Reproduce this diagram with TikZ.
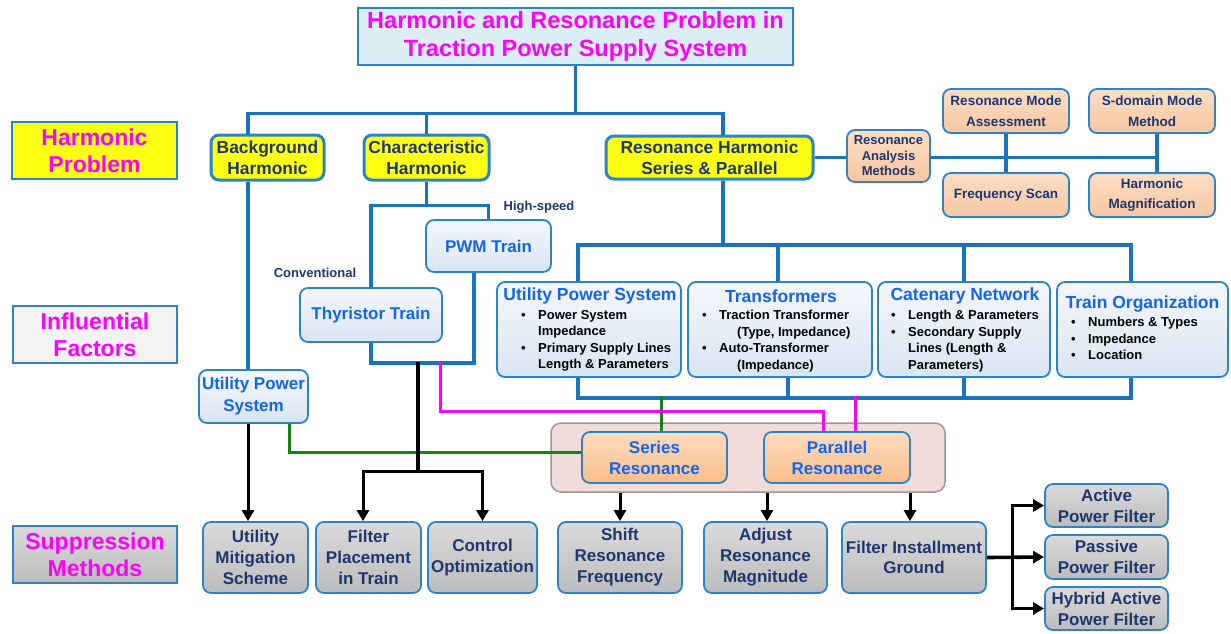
\documentclass[tikz,border=0pt]{standalone}
\usepackage{fontspec}
\setmainfont{Liberation Sans}
\usetikzlibrary{arrows.meta}
\definecolor{lineblue}{RGB}{25,115,190}
\definecolor{boxblue}{RGB}{45,130,200}
\definecolor{navy}{RGB}{30,55,110}
\definecolor{brblue}{RGB}{20,100,240}
\definecolor{mag}{RGB}{255,0,255}
\definecolor{hyellow}{RGB}{255,255,20}
\definecolor{fbtop}{RGB}{244,247,252}
\definecolor{fbbot}{RGB}{218,229,242}
\definecolor{gtop}{RGB}{218,218,218}
\definecolor{gbot}{RGB}{188,188,188}
\definecolor{pktop}{RGB}{252,222,198}
\definecolor{pkbot}{RGB}{247,198,160}
\definecolor{otop}{RGB}{253,220,190}
\definecolor{obot}{RGB}{249,190,140}
\definecolor{grpfill}{RGB}{242,220,219}
\definecolor{titlefill}{RGB}{218,238,244}
\definecolor{lgray}{RGB}{243,243,243}
\definecolor{grn}{RGB}{20,130,20}
\newcommand\bitem{\makebox[17pt][l]{\textbullet}}
\newcommand\bcont{\hspace*{17pt}}
\tikzset{
  sz/.style 2 args={minimum width=#1,minimum height=#2},
  base/.style={rounded corners=8, draw=boxblue, line width=1.8, inner sep=0, align=center,
    font=\bfseries\fontsize{17}{21}\selectfont},
  hbox/.style={base, fill=hyellow, line width=3, text=navy, font=\bfseries\fontsize{17.4}{21}\selectfont},
  fbox/.style={base, top color=fbtop, bottom color=fbbot, text=brblue},
  pbox/.style={base, top color=pktop, bottom color=pkbot, text=navy,
    font=\bfseries\fontsize{13.5}{21}\selectfont},
  sbox/.style={base, top color=gtop, bottom color=gbot, text=navy},
  obox/.style={base, top color=otop, bottom color=obot, text=brblue},
  lbox/.style={draw=boxblue, line width=1.2, inner sep=0, align=center, text=mag,
    font=\bfseries\fontsize{23}{27}\selectfont},
  head/.style={inner sep=0, text=brblue, font=\bfseries\fontsize{17.5}{21}\selectfont},
  bul/.style={inner sep=0, align=left, text=black, font=\bfseries\fontsize{13}{16.5}\selectfont},
  note/.style={inner sep=0, text=navy, font=\bfseries\fontsize{13}{16}\selectfont},
  conn/.style={draw=lineblue, line width=3.4},
  blk/.style={draw=black, line width=3.2},
  arr/.style={draw=black, line width=3, -{Triangle[length=11,width=12]}},
  grnl/.style={draw=grn, line width=3},
  mgn/.style={draw=mag, line width=3},
}
\begin{document}
\begin{tikzpicture}[x=1pt,y=-1pt]
\useasboundingbox (0,0) rectangle (1231,633);

% title and row labels
\node[lbox, fill=titlefill, sz={435}{57}, font=\bfseries\fontsize{23.5}{28}\selectfont] (title) at (575.5,36.5)
  {Harmonic and Resonance Problem in\\Traction Power Supply System};
\node[lbox, fill=hyellow, sz={165}{57}] (lhp) at (94.5,150.5) {Harmonic\\Problem};
\node[lbox, fill=lgray, sz={164}{57}] (lif) at (95,334.5) {Influential\\Factors};
\node[lbox, top color=gtop, bottom color=gbot, sz={164}{57}] (lsm) at (95,554.5) {Suppression\\Methods};

% harmonic problem row
\node[hbox, sz={113}{45}] (bg) at (267.5,157.5) {Background\\Harmonic};
\node[hbox, sz={125}{45}] (ch) at (426.5,157.5) {Characteristic\\Harmonic};
\node[hbox, sz={207}{43}] (rh) at (709.5,157.5) {Resonance Harmonic\\Series \& Parallel};

% resonance analysis
\node[pbox, sz={83}{52}, font=\bfseries\fontsize{13}{15.5}\selectfont] (ram) at (888.5,156) {Resonance\\Analysis\\Methods};
\node[pbox, sz={126}{44}] (rma) at (1006,111) {Resonance Mode\\Assessment};
\node[pbox, sz={126}{44}] (fs) at (1006,195) {Frequency Scan};
\node[pbox, sz={126}{44}] (sd) at (1152,111) {S-domain Mode\\Method};
\node[pbox, sz={126}{44}, font=\bfseries\fontsize{13.5}{20}\selectfont] (hm) at (1152,195) {Harmonic\\Magnification};

% trains
\node[fbox, sz={125}{52}] (pwm) at (488.5,246) {PWM Train};
\node[fbox, sz={142}{54}] (thy) at (371,315) {Thyristor Train};
\node[note] (hs) at (539,207) {High-speed};
\node[note] (cv) at (315,273) {Conventional};
\node[fbox, sz={109}{53}, font=\bfseries\fontsize{17}{22}\selectfont] (upsl) at (253.5,396.5) {Utility Power\\System};

% influential factors
\node[fbox, sz={184}{95}] (ups) at (589,329.5) {};
\node[head] (upsh) at (590,296) {Utility Power System};
\node[bul, anchor=north west] (upsb) at (521,310)
  {\bitem Power System\\\bcont Impedance\\\bitem Primary Supply Lines\\\bcont Length \& Parameters};

\node[fbox, sz={184}{95}] (tr) at (780,329.5) {};
\node[head] (trh) at (781,296) {Transformers};
\node[bul, anchor=north west] (trb) at (702,310)
  {\bitem Traction Transformer\\\hspace*{35pt}(Type, Impedance)\\\bitem Auto-Transformer\\\hspace*{35pt}(Impedance)};

\node[fbox, sz={172}{95}] (cn) at (964,329.5) {};
\node[head] (cnh) at (965,296) {Catenary Network};
\node[bul, anchor=north west] (cnb) at (891,310)
  {\bitem Length \& Parameters\\\bitem Secondary Supply\\\bcont Lines (Length \&\\\bcont Parameters)};

\node[fbox, sz={171}{95}] (to) at (1142.5,329.5) {};
\node[head] (toh) at (1142.5,304) {Train Organization};
\node[bul, anchor=north west] (tob) at (1071,317)
  {\bitem Numbers \& Types\\\bitem Impedance\\\bitem Location};

% resonance group
\node[draw=black!40, line width=1.5, fill=grpfill, rounded corners=10, sz={394}{69}] (grp) at (748,457.5) {};
\node[obox, sz={145}{51}] (sr) at (654.5,457.5) {Series\\Resonance};
\node[obox, sz={146}{51}] (pr) at (837,457.5) {Parallel\\Resonance};

% suppression methods
\node[sbox, sz={105}{71}] (um) at (255.5,557.5) {Utility\\Mitigation\\Scheme};
\node[sbox, sz={105}{71}] (fp) at (368.5,557.5) {Filter\\Placement\\in Train};
\node[sbox, sz={109}{71}, font=\bfseries\fontsize{17}{20.5}\selectfont] (co) at (482.5,557.5) {Control\\Optimization};
\node[sbox, sz={124}{71}] (shr) at (620,557.5) {Shift\\Resonance\\Frequency};
\node[sbox, sz={123}{71}] (adj) at (765.5,557.5) {Adjust\\Resonance\\Magnitude};
\node[sbox, sz={144}{71}, font=\bfseries\fontsize{17}{20.5}\selectfont] (fig) at (914,557.5) {Filter Installment\\Ground};
\node[sbox, sz={123}{43}] (apf) at (1106.5,505.5) {Active\\Power Filter};
\node[sbox, sz={123}{44}] (ppf) at (1106.5,557) {Passive\\Power Filter};
\node[sbox, sz={123}{43}] (hpf) at (1106.5,608.5) {Hybrid Active\\Power Filter};

% ---- connectors ----
\draw[conn] (title.south) -- ++(0,48) coordinate (jt);
\draw[conn] ([xshift=-19.5pt]bg.north) |- (jt) -| ([xshift=13.5pt]rh.north);
\draw[conn] (ch.north) -- (ch.north |- jt);

\coordinate (sdc) at ([xshift=5pt]sd.south);
\coordinate (hmc) at ([xshift=5pt]hm.north);
\draw[conn] (rh.east) -- (rh.east -| ram.west);
\draw[conn] (rh.east -| ram.east) -- (rh.east -| sdc);
\draw[conn] (rma.south) -- (fs.north);
\draw[conn] (sdc) -- (hmc);

\draw[conn] (ch.south) -- ++(0,24) coordinate (cj);
\draw[conn] (thy.north) |- (cj) -| (pwm.north);
\draw[conn] (thy.south) -- ++(0,20) coordinate (tj) -| ([xshift=-14.5pt]pwm.south);

\draw[conn] ([xshift=-19.5pt]bg.south) -- ([xshift=-5.5pt]upsl.north);

\draw[conn] ([xshift=13.5pt]rh.south) -- ++(0,66);
\draw[conn] ([xshift=-11pt]ups.north) -- ++(0,-36) -| ([xshift=-11.5pt]to.north);
\draw[conn] ([xshift=-2pt]tr.north) -- ++(0,-36);
\draw[conn] (cn.north) -- ++(0,-36);
\draw[conn] ([xshift=-11pt]ups.south) -- ++(0,20) -| ([xshift=-11.5pt]to.south);
\draw[conn] ([xshift=8pt]tr.south) -- ++(0,20);
\draw[conn] (cn.south) -- ++(0,20);

% green
\draw[grnl] ([xshift=6.5pt]sr.north) -- ++(0,-35);
\draw[grnl] ([xshift=35.5pt]upsl.south) |- ([yshift=5.5pt]sr.west);

% magenta
\coordinate (mj) at (440,362);
\draw[mgn] (mj) -- ++(0,49) -| ([xshift=-14pt]pr.north);
\draw[mgn] ([xshift=18pt]pr.north) -- ++(0,-35);

% black
\coordinate (bj) at (418,362);
\draw[blk] (bj) -- ++(0,109) coordinate (bk);
\draw[arr] (bk) -| ([xshift=-5.5pt]fp.north);
\draw[arr] (bk) -| (co.north);
\coordinate (ua) at ([xshift=-5.5pt]upsl.south);
\draw[arr] (ua) -- (ua |- um.north);

\draw[arr] (shr.north |- grp.south) -- (shr.north);
\coordinate (adc) at ([xshift=1.5pt]adj.north);
\draw[arr] (adc |- grp.south) -- (adc);
\coordinate (fgc) at ([xshift=-4pt]fig.north);
\draw[arr] (fgc |- grp.south) -- (fgc);

\draw[arr, line width=3.6] (fig.east) -- (ppf.west);
\coordinate (fv) at (1012,557);
\draw[arr] (fv) |- (apf.west);
\draw[arr] (fv) |- (hpf.west);
\end{tikzpicture}
\end{document}
